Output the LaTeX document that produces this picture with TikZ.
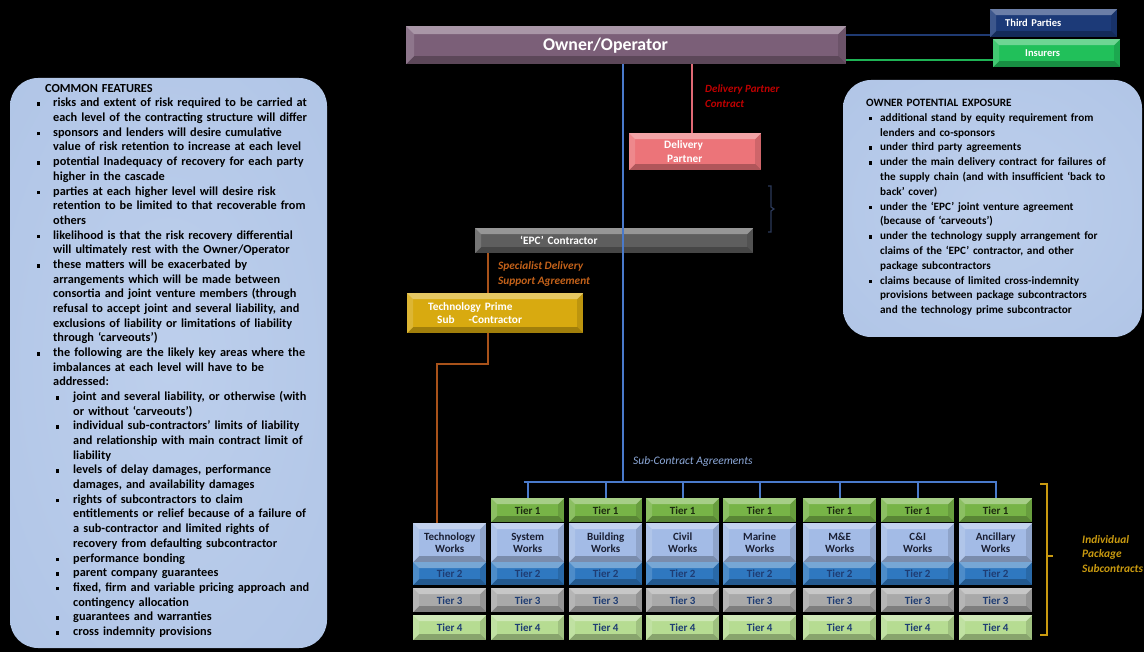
\documentclass[tikz,border=0pt]{standalone}
\usepackage{fontspec}
\setmainfont{Carlito}
\usetikzlibrary{calc}
\definecolor{ownerc}{HTML}{7B5F78}
\definecolor{thirdc}{HTML}{1C3A78}
\definecolor{insc}{HTML}{21C05A}
\definecolor{dpc}{HTML}{EC7479}
\definecolor{epcc}{HTML}{5E5E5E}
\definecolor{tpc}{HTML}{D8AA10}
\definecolor{t1c}{HTML}{77B447}
\definecolor{wkc}{HTML}{A3BBE6}
\definecolor{t2c}{HTML}{2F78C0}
\definecolor{t3c}{HTML}{A9A9A9}
\definecolor{t4c}{HTML}{B6DC92}
\definecolor{tiertext}{HTML}{1F3D73}
\definecolor{t1text}{HTML}{1C2B10}
\definecolor{wktext}{HTML}{1A1F33}
\definecolor{bluel}{HTML}{4A7ACB}
\definecolor{redl}{HTML}{E06A75}
\definecolor{brownl}{HTML}{A8521A}
\definecolor{navyl}{HTML}{1F3A72}
\definecolor{greenl}{HTML}{1FB355}
\definecolor{dplab}{HTML}{C00000}
\definecolor{splab}{HTML}{C4621A}
\definecolor{sclab}{HTML}{8EAADB}
\definecolor{goldl}{HTML}{C99A10}
\definecolor{bracec}{HTML}{2C3A5A}
\definecolor{pin}{HTML}{BDCFEC}
\definecolor{pmid}{HTML}{AFC4E6}
\definecolor{pout}{HTML}{7F97C2}
\pgfdeclareradialshading{panelshade}{\pgfpoint{0bp}{0bp}}{color(0bp)=(pin); color(40bp)=(pmid); color(49bp)=(pout); color(72bp)=(pout)}
\newcommand\sqb{\rule[0.9pt]{3.6pt}{3.6pt}}
\newcommand\featlist{\begin{list}{\sqb}{\setlength\leftmargin{17pt}\setlength\labelwidth{4pt}\setlength\labelsep{13pt}\setlength\itemsep{0pt}\setlength\parsep{0pt}\setlength\topsep{0pt}\setlength\partopsep{0pt}}}
\newcommand\subfeatlist{\begin{list}{\sqb}{\setlength\leftmargin{20pt}\setlength\labelwidth{4pt}\setlength\labelsep{14pt}\setlength\itemsep{0pt}\setlength\parsep{0pt}\setlength\topsep{0pt}\setlength\partopsep{0pt}}}
\newcommand\expolist{\begin{list}{\sqb}{\setlength\leftmargin{14pt}\setlength\labelwidth{4pt}\setlength\labelsep{8pt}\setlength\itemsep{0pt}\setlength\parsep{0pt}\setlength\topsep{0pt}\setlength\partopsep{0pt}}}
\tikzset{
  bevel/.style={path picture={
    \path (path picture bounding box.north west) coordinate (bnw)
          (path picture bounding box.north east) coordinate (bne)
          (path picture bounding box.south west) coordinate (bsw)
          (path picture bounding box.south east) coordinate (bse);
    \fill[white,opacity=.35] (bnw) -- (bne) -- ([shift={(-#1,-#1)}]bne) -- ([shift={(#1,-#1)}]bnw) -- cycle;
    \fill[white,opacity=.15] (bnw) -- (bsw) -- ([shift={(#1,#1)}]bsw) -- ([shift={(#1,-#1)}]bnw) -- cycle;
    \fill[black,opacity=.25] (bsw) -- (bse) -- ([shift={(-#1,#1)}]bse) -- ([shift={(#1,#1)}]bsw) -- cycle;
    \fill[black,opacity=.12] (bne) -- (bse) -- ([shift={(-#1,#1)}]bse) -- ([shift={(-#1,-#1)}]bne) -- cycle;
  }},
  bevel/.default=6pt,
  box/.style={rectangle, inner sep=0pt, anchor=north west, font=\bfseries, bevel},
  colbox/.style={box, minimum width=73pt, align=center, font=\bfseries\fontsize{11}{12.5}\selectfont},
  tieraa/.style={colbox, fill=t1c, text=t1text, minimum height=24pt},
  wkbox/.style={colbox, fill=wkc, text=wktext, minimum height=39pt},
  tierbb/.style={colbox, fill=t2c, text=tiertext, minimum height=23pt},
  tiercc/.style={colbox, fill=t3c, text=tiertext, minimum height=24pt},
  tierdd/.style={colbox, fill=t4c, text=tiertext, minimum height=25pt},
  panel/.style={rounded corners=28pt, shading=panelshade},
  paneltext/.style={anchor=north west, inner sep=0pt, text width=300pt, text=black},
  lab/.style={anchor=north west, inner sep=0pt, align=left, font=\bfseries\itshape\fontsize{11}{14.5}\selectfont},
}
\begin{document}
\begin{tikzpicture}[x=1pt,y=-1pt]
\fill[black] (0,0) rectangle (1144,652);
\useasboundingbox (0,0) rectangle (1144,652);

% panels
\path[panel] (10,78) rectangle (327,648);
\path[panel] (843,80) rectangle (1142,337);

\node[paneltext, font=\bfseries\fontsize{12.3}{14.68}\selectfont] (cf) at (36,84) {\raggedright
\hspace*{9pt}COMMON FEATURES\par
\featlist
\item risks and extent of risk required to be carried at\\each level of the contracting structure will differ
\item sponsors and lenders will desire cumulative\\value of risk retention to increase at each level
\item potential Inadequacy of recovery for each party\\higher in the cascade
\item parties at each higher level will desire risk\\retention to be limited to that recoverable from\\others
\item likelihood is that the risk recovery differential\\will ultimately rest with the Owner/Operator
\item these matters will be exacerbated by\\arrangements which will be made between\\consortia and joint venture members (through\\refusal to accept joint and several liability, and\\exclusions of liability or limitations of liability\\through ‘carveouts’)
\item the following are the likely key areas where the\\imbalances at each level will have to be\\addressed:
\subfeatlist
\item joint and several liability, or otherwise (with\\or without ‘carveouts’)
\item individual sub-contractors’ limits of liability\\and relationship with main contract limit of\\liability
\item levels of delay damages, performance\\damages, and availability damages
\item rights of subcontractors to claim\\entitlements or relief because of a failure of\\a sub-contractor and limited rights of\\recovery from defaulting subcontractor
\item performance bonding
\item parent company guarantees
\item fixed, firm and variable pricing approach and\\contingency allocation
\item guarantees and warranties
\item cross indemnity provisions
\end{list}
\end{list}};

\node[paneltext, font=\bfseries\fontsize{11.2}{14.8}\selectfont] (ope) at (866,99) {\raggedright
OWNER POTENTIAL EXPOSURE\par
\expolist
\item additional stand by equity requirement from\\lenders and co-sponsors
\item under third party agreements
\item under the main delivery contract for failures of\\the supply chain (and with insufficient ‘back to\\back’ cover)
\item under the ‘EPC’ joint venture agreement\\(because of ‘carveouts’)
\item under the technology supply arrangement for\\claims of the ‘EPC’ contractor, and other\\package subcontractors
\item claims because of limited cross-indemnity\\provisions between package subcontractors\\and the technology prime subcontractor
\end{list}};

% top boxes
\node[box, fill=ownerc, text=white, minimum width=440pt, minimum height=38pt, text width=166pt, inner xsep=137pt, align=left, font=\bfseries\fontsize{17.8}{20}\selectfont, bevel=8pt] (owner) at (406,26) {Owner/Operator};
\node[box, fill=thirdc, text=white, minimum width=127pt, minimum height=28pt, text width=97pt, inner xsep=15pt, align=left, font=\bfseries\fontsize{10.5}{12}\selectfont] (third) at (990,9) {Third Parties};
\node[box, fill=insc, text=white, minimum width=127pt, minimum height=28pt, text width=63pt, inner xsep=32pt, align=left, font=\bfseries\fontsize{10.5}{12}\selectfont] (ins) at (993,39) {Insurers};
\node[box, fill=dpc, text=white, minimum width=132pt, minimum height=37pt, text width=62pt, inner xsep=35pt, align=left, font=\bfseries\fontsize{11.3}{13.5}\selectfont] (dp) at (629,133) {Delivery\\\hspace*{3pt}Partner};
\node[box, fill=epcc, text=white, minimum width=278pt, minimum height=25pt, text width=188pt, inner xsep=45pt, align=left, font=\bfseries\fontsize{11.3}{13}\selectfont] (epc) at (475,228) {‘EPC’ Contractor};
\node[box, fill=tpc, text=white, minimum width=176pt, minimum height=40pt, text width=134pt, inner xsep=21pt, align=left, font=\bfseries\fontsize{11.3}{13.5}\selectfont] (tp) at (407,293) {Technology Prime\\\hspace*{9pt}Sub\hspace{14pt}-Contractor};

% columns
\foreach \i/\x in {2/491,3/569,4/646,5/723,6/803,7/881,8/959}
  \node[tieraa] (ta\i) at (\x,498) {Tier 1};
\foreach \i/\x/\lab in {1/413/Technology,2/491/System,3/569/Building,4/646/Civil,5/723/Marine,6/803/M\&E,7/881/C\&I,8/959/Ancillary}{
  \node[wkbox] (wk\i) at (\x,523) {\lab\\Works};
  \node[tierbb] (tb\i) at (\x,562) {Tier 2};
  \node[tiercc] (tc\i) at (\x,588) {Tier 3};
  \node[tierdd] (td\i) at (\x,615) {Tier 4};
}

% connectors
\coordinate (busjoin) at (623,482);
\coordinate (dpx) at (692,0);
\coordinate (brx) at (488,0);
\coordinate (brbend) at (437,364);
\draw[bluel, line width=2pt] (owner.south -| busjoin) -- (busjoin);
\draw[bluel, line width=2pt] ([xshift=-4pt]ta2.north |- busjoin) -- ([xshift=1pt]ta8.north |- busjoin);
\foreach \i in {2,...,8} \draw[bluel, line width=2pt] (ta\i.north |- busjoin) -- (ta\i.north);
\draw[redl, line width=1.5pt] (owner.south -| dpx) -- (dp.north -| dpx);
\draw[navyl, line width=2pt] ([yshift=2pt]third.south west) -- ([yshift=2pt]third.south west -| owner.east);
\draw[greenl, line width=2pt] ([yshift=7pt]ins.south west) -- ([yshift=7pt]ins.south west -| owner.east);
\draw[brownl, line width=2pt] (epc.south -| brx) -- (tp.north -| brx);
\draw[brownl, line width=2pt] (tp.south -| brx) |- (brbend) -- (wk1.north -| brbend);

% braces
\draw[bracec, line width=1.2pt] (768,186) -- (771,186) -- (771,207) -- (774,209) -- (771,211) -- (771,232) -- (768,232);
\draw[goldl, line width=2pt] (1040,484) -- (1047,484) -- (1047,635) -- (1040,635);
\draw[goldl, line width=2pt] (1047,556) -- (1053,556);

% labels
\node[lab, text=dplab] (dplabel) at (705,85) {Delivery Partner\\Contract};
\node[lab, text=splab, font=\bfseries\itshape\fontsize{11.3}{15}\selectfont] (splabel) at (498,261) {Specialist Delivery\\Support Agreement};
\node[lab, text=sclab, font=\itshape\fontsize{11.5}{13}\selectfont] (sclabel) at (633,456) {Sub-Contract Agreements};
\node[lab, text=goldl, font=\bfseries\itshape\fontsize{11.4}{14.5}\selectfont] (iplabel) at (1082,535) {Individual\\Package\\Subcontracts};
\end{tikzpicture}
\end{document}
